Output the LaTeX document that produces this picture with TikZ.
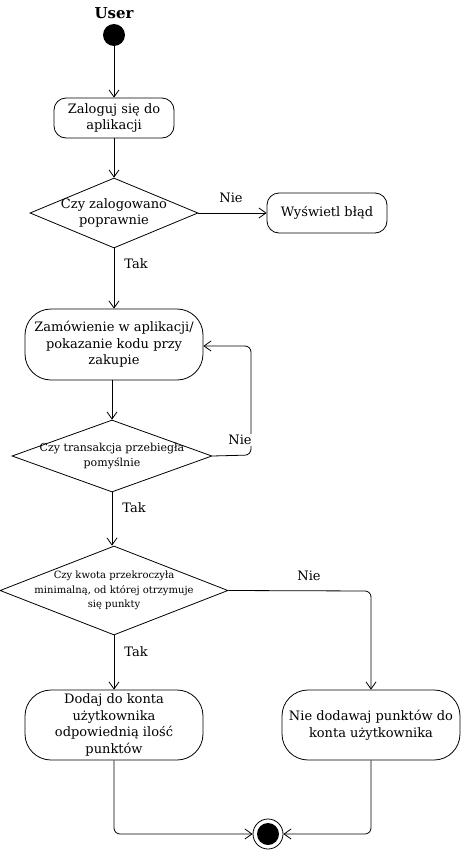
\documentclass[tikz,border=0pt]{standalone}
\usepackage{fontspec}
\setmainfont{DejaVu Serif}
\usetikzlibrary{shapes.geometric,arrows.meta}
\begin{document}
\begin{tikzpicture}[x=1pt,y=-1pt,
  act/.style={draw, rounded corners=#1, line width=0.8pt, inner sep=0pt},
  act/.default=12pt,
  txt/.style={align=center, inner sep=0pt, font=\fontsize{13}{16.5}\selectfont},
  dia/.style={draw, diamond, line width=0.8pt, inner sep=0pt},
  lbl/.style={inner sep=0pt, font=\fontsize{13}{15}\selectfont},
  conn/.style={line width=0.8pt, -{Straight Barb[length=7pt,width=10pt]}},
]
\useasboundingbox (0,0) rectangle (461,851);
\node[font=\bfseries\fontsize{15}{18}\selectfont, inner sep=0pt] (user) at (114,13) {User};
\node[circle, fill, minimum size=22pt, inner sep=0pt] (start) at (114,35) {};

\node[act, minimum width=120pt, minimum height=40pt] (b1) at (114,118) {};
\node[txt] (b1t) at (b1.center) {Zaloguj się do\\aplikacji};

\node[dia, minimum width=168pt, minimum height=70pt] (d1) at (114,213) {};
\node[txt] (d1t) at (d1.center) {Czy zalogowano\\poprawnie};

\node[act, minimum width=120pt, minimum height=40pt] (b2) at (327,213) {};
\node[txt] (b2t) at (b2.center) {Wyświetl błąd};

\node[act=26pt, minimum width=178pt, minimum height=71pt] (b3) at (114,344.5) {};
\node[txt] (b3t) at (b3.center) {Zamówienie w aplikacji/\\pokazanie kodu przy\\zakupie};

\node[dia, minimum width=200pt, minimum height=72pt] (d2) at (112,456) {};
\node[txt, font=\fontsize{11}{15}\selectfont] (d2t) at (d2.center) {Czy transakcja przebiegła\\pomyślnie};

\node[dia, minimum width=228pt, minimum height=89pt] (d3) at (114,590.5) {};
\node[txt, font=\fontsize{10}{14.5}\selectfont] (d3t) at (d3.center) {Czy kwota przekroczyła\\minimalną, od której otrzymuje\\się punkty};

\node[act=26pt, minimum width=178pt, minimum height=70pt] (b4) at (114,725) {};
\node[txt] (b4t) at (b4.center) {Dodaj do konta\\użytkownika\\odpowiednią ilość\\punktów};

\node[act=26pt, minimum width=178pt, minimum height=70pt] (b5) at (371,725) {};
\node[txt] (b5t) at (b5.center) {Nie dodawaj punktów do\\konta użytkownika};

\node[circle, draw, line width=0.8pt, minimum size=30pt, inner sep=0pt] (end) at (268,834) {};
\node[circle, fill, minimum size=22pt, inner sep=0pt] (endin) at (end.center) {};

\coordinate (c1) at (251,455);
\coordinate (c2) at (251,346);
\coordinate (c3) at (371,591);
\coordinate (c4) at (114,834);
\coordinate (c5) at (371,834);

\draw[conn] (start) -- (b1);
\draw[conn] (b1) -- (d1.north);
\draw[conn] (d1.east) -- (b2.west);
\draw[conn] (d1.south) -- (b3.north);
\draw[conn] (b3.south -| d2.north) -- (d2.north);
\draw[conn, rounded corners=6pt] (d2.east) -- (c1) -- (c2) -- (b3.east |- c2);
\draw[conn] (d2.south) -- (d2.south |- d3.north);
\draw[conn] (d3.south) -- (b4.north);
\draw[conn, rounded corners=6pt] (d3.east) -- (c3) -- (b5.north);
\draw[conn, rounded corners=6pt] (b4.south) -- (c4) -- (end.west);
\draw[conn, rounded corners=6pt] (b5.south) -- (c5) -- (end.east);

\node[lbl] (n1) at (231,198) {Nie};
\node[lbl] (t1) at (136,264) {Tak};
\node[lbl, fill=white, inner sep=1pt] (n2) at (240,440) {Nie};
\node[lbl] (t2) at (134,508) {Tak};
\node[lbl] (n3) at (309,576) {Nie};
\node[lbl] (t3) at (136,652) {Tak};
\end{tikzpicture}
\end{document}
